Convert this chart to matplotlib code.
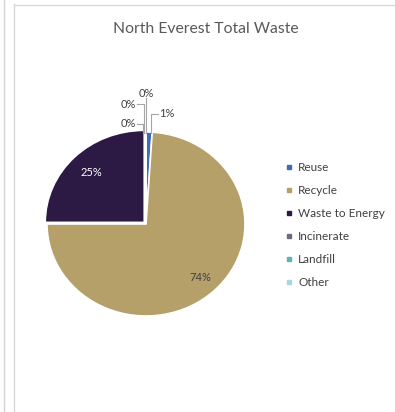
import matplotlib.pyplot as plt
from matplotlib.lines import Line2D
import numpy as np

plt.rcParams['font.family'] = ['Lato', 'DejaVu Sans']

categories = ['Reuse', 'Recycle', 'Waste to Energy', 'Incinerate', 'Landfill', 'Other']
values = [1, 74, 25, 0, 0, 0]
colors = ['#3F6CB3', '#B5A06A', '#2C1A45', '#6F6A82', '#5EB4B4', '#A9D6E0']
explode = [0, 0, 0.025, 0, 0, 0]

W, H = 395, 412
fig = plt.figure(figsize=(W / 100, H / 100), dpi=100)

# panel borders
fig.add_artist(Line2D([3.5 / W, 3.5 / W], [0, 1], color='#D4D4D4', lw=1))
fig.add_artist(Line2D([13.5 / W, 13.5 / W], [0, 1 - 4 / H], color='#D9D9D9', lw=1))
fig.add_artist(Line2D([13.5 / W, 1], [1 - 4.5 / H, 1 - 4.5 / H], color='#D9D9D9', lw=1))

fig.text(206 / W, 1 - 29 / H, 'North Everest Total Waste', ha='center', va='center',
         fontsize=11.3, color='#595959')

# pie axes: centre at (146, 224) px, slightly wider than tall (as in the source)
cx, cy, rx, ry = 146, 224, 99, 92
ax = fig.add_axes([(cx - 1.04 * rx) / W, (H - cy - 1.04 * ry) / H,
                   2.08 * rx / W, 2.08 * ry / H])
wedges, _ = ax.pie(values, colors=colors, startangle=90, counterclock=False,
                   explode=explode, wedgeprops=dict(edgecolor='white', linewidth=1.2))
ax.set_xlim(-1.04, 1.04)
ax.set_ylim(-1.04, 1.04)
ax.set_aspect('auto')
ax.axis('off')

# inner labels
for col, rr in [(1, 0.8), (2, 0.76)]:
    w = wedges[col]
    a = np.deg2rad((w.theta1 + w.theta2) / 2)
    ox, oy = w.center
    ax.text(ox + rr * np.cos(a), oy + rr * np.sin(a), f'{values[col]}%', ha='center',
            va='center', fontsize=8, color='white' if col == 2 else '#404040')

# leader-line labels for small slices: (slice, knee, text pos, align)
lc = '#A6A6A6'
small = [
    (0, (0.05, 1.20), (0.12, 1.20), 'left'),
    (3, (-0.035, 1.09), (-0.09, 1.09), 'right'),
    (4, (-0.02, 1.30), (-0.09, 1.30), 'right'),
    (5, (0.0, 1.37), (0.0, 1.36), 'center'),
]
for idx, knee, txt, ha in small:
    x0 = knee[0]
    y0 = np.sqrt(max(1 - x0 ** 2, 0)) * 0.99
    if ha == 'center':
        ax.plot([x0, x0], [y0, knee[1]], color=lc, lw=0.8, clip_on=False)
        ax.text(txt[0], txt[1], f'{values[idx]}%', ha='center', va='bottom',
                fontsize=8, color='#404040')
    else:
        ax.plot([x0, x0, txt[0]], [y0, knee[1], knee[1]], color=lc, lw=0.8, clip_on=False)
        tx = txt[0] + (0.01 if ha == 'left' else -0.01)
        ax.text(tx, txt[1], f'{values[idx]}%', ha=ha, va='center',
                fontsize=8, color='#404040')

handles = [Line2D([], [], marker='s', ls='none', markersize=3.5, color=c) for c in colors]
fig.legend(handles, categories, loc='upper left', bbox_to_anchor=(284 / W, 1 - 162 / H),
           frameon=False, fontsize=8.5, handlelength=0.8, handletextpad=0.4,
           labelspacing=1.02, labelcolor='#404040', borderaxespad=0, borderpad=0)

fig.savefig('out.png', dpi=100)
